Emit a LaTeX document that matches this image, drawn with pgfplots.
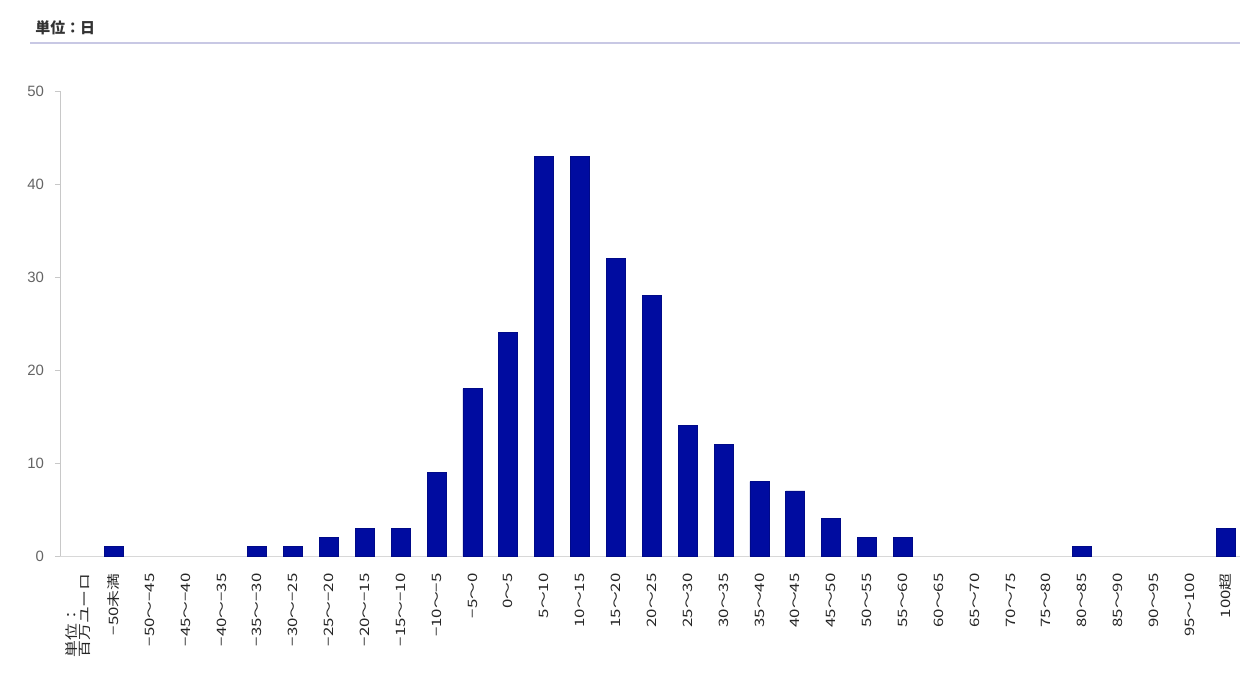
\documentclass[border=0pt]{standalone}
\usepackage{fontspec}
\setmainfont{Noto Sans CJK JP}
\newfontfamily\ticklab[FakeStretch=1.3]{Noto Sans CJK JP}
\newfontfamily\ynum{Liberation Sans}
\usepackage{pgfplots}
\pgfplotsset{compat=1.18}
\definecolor{barblue}{RGB}{0,12,160}
\definecolor{axgray}{RGB}{200,200,200}
\definecolor{lavline}{RGB}{200,200,228}
\definecolor{labgray}{RGB}{100,100,100}
\begin{document}
\begin{tikzpicture}
\begin{axis}[
  at={(30bp,66bp)}, anchor=south west,
  scale only axis, width=590bp, height=232.5bp,
  xmin=-0.5, xmax=32.4, ymin=0, ymax=50,
  axis x line*=bottom, axis y line*=left,
  x axis line style={axgray!70,-}, y axis line style={axgray,-},
  ytick={0,10,20,30,40,50},
  tick align=outside, major tick length=2.5bp,
  ytick style={axgray},
  xtick style={draw=none},
  xtick={0,...,32},
  xticklabels={{単位：\\百万ユーロ},−50未満,−50〜−45,−45〜−40,−40〜−35,−35〜−30,−30〜−25,−25〜−20,−20〜−15,−15〜−10,−10〜−5,−5〜0,0〜5,5〜10,10〜15,15〜20,20〜25,25〜30,30〜35,35〜40,40〜45,45〜50,50〜55,55〜60,60〜65,65〜70,70〜75,75〜80,80〜85,85〜90,90〜95,95〜100,100超},
  xticklabel style={rotate=90, anchor=east, align=left, font=\ticklab\fontsize{6.5}{6.8}\selectfont, text=black!85, inner sep=1bp},
  yticklabel style={font=\ynum\fontsize{7.5}{8}\selectfont, text=labgray},
  /pgf/number format/assume math mode=true,
  every x tick label/.append style={xshift=-5bp},
  every y tick label/.append style={xshift=-2bp},
  clip=false,
]
\addplot[ybar, bar width=9.5bp, fill=barblue, draw=barblue!85!black] coordinates {
(1,1) (5,1) (6,1) (7,2) (8,3) (9,3) (10,9)
(11,18) (12,24) (13,43) (14,43) (15,32) (16,28) (17,14) (18,12) (19,8) (20,7)
(21,4) (22,2) (23,2) (28,1) (32,3)
};
\end{axis}
\node[anchor=west, inner sep=0pt, font=\bfseries\fontsize{7.5}{8}\selectfont, text=black!80] at (17.5bp,330bp) {単位：日};
\draw[lavline, line width=1bp] (15bp,322.5bp) -- (620bp,322.5bp);
\pgfresetboundingbox
\path (0,0) rectangle (620bp,344bp);
\end{tikzpicture}
\end{document}
